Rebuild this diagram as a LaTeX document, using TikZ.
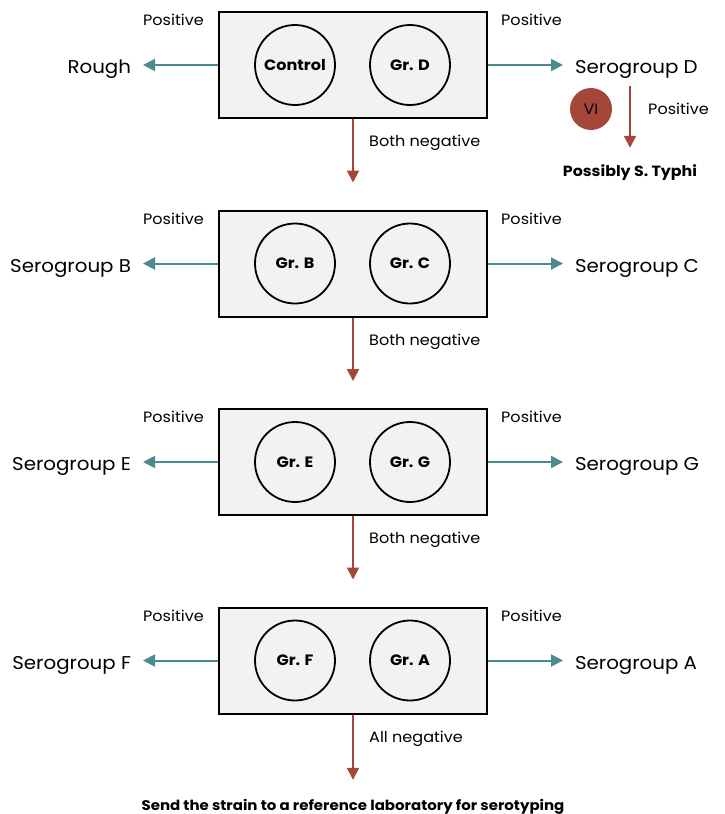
\documentclass[tikz,border=0pt]{standalone}
\usepackage{fontspec}
\setmainfont{Poppins}[FakeStretch=1.07]
\usetikzlibrary{arrows.meta,positioning}
\definecolor{tealarr}{HTML}{4A8A90}
\definecolor{redarr}{HTML}{A5463A}
\tikzset{
  plate/.style   = {draw, line width=2pt, fill=gray!10, minimum width=268pt, minimum height=106pt},
  well/.style    = {draw, line width=1.8pt, circle, minimum size=80pt, inner sep=0pt, font=\fontsize{15}{17}\selectfont\bfseries},
  outcome/.style = {inner sep=0pt, outer sep=12pt, text height=17pt, text depth=0pt, font=\fontsize{18.5}{20}\selectfont},
  note/.style    = {inner sep=0pt, font=\fontsize{15}{17}\selectfont},
  final/.style   = {inner sep=0pt, text height=10pt, text depth=0pt, font=\fontsize{14}{16}\selectfont\bfseries},
  posarr/.style  = {->, draw=tealarr, line width=2pt},
  negarr/.style  = {->, draw=redarr, line width=2pt}
}

\begin{document}
\begin{tikzpicture}[x=1pt, y=-1pt,
  >={Triangle[length=12pt, width=12pt]}]
\useasboundingbox (0,0) rectangle (724,814);

% the four plates, one under the other
\node[plate] (p1) at (353,65) {};
\node[plate] (p2) at (353,263.5) {};
\node[plate] (p3) at (353,462) {};
\node[plate] (p4) at (353,660.5) {};

% wells on each plate
\node[well] (w1a) at ([xshift=-58pt]p1.center) {Control};
\node[well] (w1b) at ([xshift=57pt]p1.center) {Gr. D};
\node[well] (w2a) at ([xshift=-58pt]p2.center) {Gr. B};
\node[well] (w2b) at ([xshift=57pt]p2.center) {Gr. C};
\node[well] (w3a) at ([xshift=-58pt]p3.center) {Gr. E};
\node[well] (w3b) at ([xshift=57pt]p3.center) {Gr. G};
\node[well] (w4a) at ([xshift=-58pt]p4.center) {Gr. F};
\node[well] (w4b) at ([xshift=57pt]p4.center) {Gr. A};

% outcomes, left and right of each plate
\node[outcome, left=75pt of p1]  (o1l) {Rough};
\node[outcome, right=75pt of p1] (o1r) {Serogroup D};
\node[outcome, left=75pt of p2]  (o2l) {Serogroup B};
\node[outcome, right=75pt of p2] (o2r) {Serogroup C};
\node[outcome, left=75pt of p3]  (o3l) {Serogroup E};
\node[outcome, right=75pt of p3] (o3r) {Serogroup G};
\node[outcome, left=75pt of p4]  (o4l) {Serogroup F};
\node[outcome, right=75pt of p4] (o4r) {Serogroup A};

\foreach \i in {1,2,3,4} {
  \draw[posarr] (p\i) -- (o\i l);
  \draw[posarr] (p\i) -- (o\i r);
  \node[note, anchor=east] (n\i l) at ([xshift=-14pt,yshift=-9pt]p\i.north west) {Positive};
  \node[note, anchor=west] (n\i r) at ([xshift=13pt,yshift=-9pt]p\i.north east) {Positive};
}

% going down when both wells stay negative
\foreach \i/\j in {1/2,2/3,3/4} {
  \draw[negarr, shorten >=27pt] (p\i) -- (p\j);
  \node[note, anchor=west] (b\i) at ([xshift=16pt,yshift=-24pt]p\i.south) {Both negative};
}

% last step
\node[final] (send) at (353,805) {Send the strain to a reference laboratory for serotyping};
\draw[negarr, shorten >=20pt] (p4) -- (send);
\node[note, anchor=west] (b4) at ([xshift=16pt,yshift=-24pt]p4.south) {All negative};

% Vi test under serogroup D
\node[circle, fill=redarr, minimum size=42pt, inner sep=0pt, font=\fontsize{15}{17}\selectfont] (vi) at (591,109) {VI};
\node[final, font=\fontsize{14.8}{17}\selectfont\bfseries] (typhi) at (630,171) {Possibly S. Typhi};
\draw[negarr, shorten >=18pt] (o1r.south -| typhi) -- (typhi);
\node[note, anchor=west] (vpos) at (648,109) {Positive};
\end{tikzpicture}
\end{document}
